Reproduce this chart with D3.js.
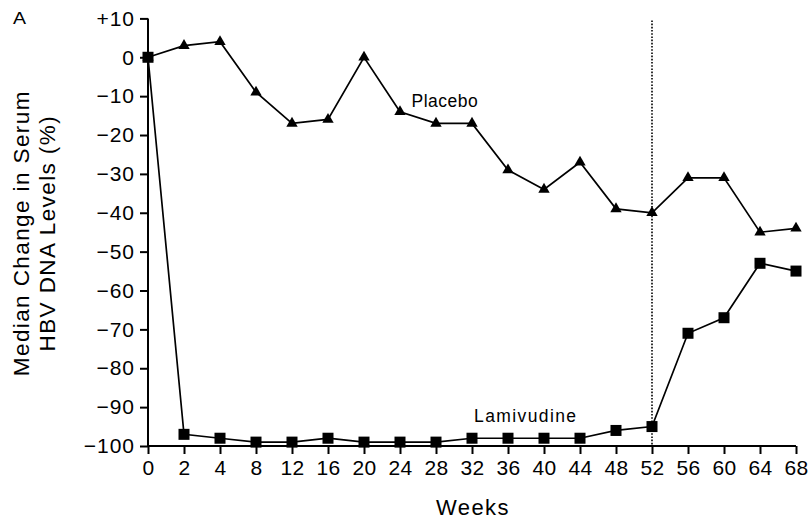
<!DOCTYPE html>
<html>
<head>
<meta charset="utf-8">
<script src="https://cdn.jsdelivr.net/npm/d3@7"></script>
<style>
  body { margin: 0; background: #fff; }
  text { font-family: "Liberation Sans", Arial, sans-serif; fill: #000; }
</style>
</head>
<body>
<svg id="chart"></svg>
<script>
const width = 809;
const height = 520;
const svg = d3.select('#chart').attr('width', width).attr('height', height);

// data
const weeks = ['0','2','4','8','12','16','20','24','28','32','36','40','44','48','52','56','60','64','68'];
const placebo = [0, 3, 4, -9, -17, -16, 0, -14, -17, -17, -29, -34, -27, -39, -40, -31, -31, -45, -44];
const lamivudine = [0, -97, -98, -99, -99, -98, -99, -99, -99, -98, -98, -98, -98, -96, -95, -71, -67, -53, -55];
const yTicks = [10, 0, -10, -20, -30, -40, -50, -60, -70, -80, -90, -100];
const stopWeek = '52';

const margin = { top: 18.4, left: 148 };
const innerW = 648;
const innerH = 427.6;

const g = svg.append('g').attr('transform', `translate(${margin.left},${margin.top})`);

const x = d3.scalePoint().domain(weeks).range([0, innerW]);
const y = d3.scaleLinear().domain([-100, 10]).range([innerH, 0]);

const fmt = d => d > 0 ? '+' + d : (d < 0 ? '\u2212' + Math.abs(d) : '0');

// axes
const yAxis = g.append('g')
  .call(d3.axisLeft(y).tickValues(yTicks).tickFormat(fmt).tickSize(8).tickSizeOuter(0).tickPadding(5));
const xAxis = g.append('g')
  .attr('transform', `translate(0,${innerH})`)
  .call(d3.axisBottom(x).tickSize(8).tickSizeOuter(0).tickPadding(6));

[yAxis, xAxis].forEach(a => {
  a.selectAll('path, line').attr('stroke', '#000').attr('stroke-width', 2);
  a.selectAll('text').style('font-size', '21px').attr('fill', '#000');
});
yAxis.selectAll('text').style('letter-spacing', '1px');
xAxis.selectAll('text').style('letter-spacing', '0.3px');
yAxis.select('.domain').attr('d', `M0,${y(10)}V${innerH}`);
xAxis.select('.domain').attr('d', `M0,0H${innerW}`);

// dotted line at end of treatment
g.append('line')
  .attr('x1', x(stopWeek)).attr('x2', x(stopWeek))
  .attr('y1', 2).attr('y2', innerH)
  .attr('stroke', '#000')
  .attr('stroke-width', 1.6)
  .attr('stroke-dasharray', '1.6,1.6');

const line = d3.line()
  .x((d, i) => x(weeks[i]))
  .y(d => y(d));

// placebo
g.append('path')
  .datum(placebo)
  .attr('d', line)
  .attr('fill', 'none')
  .attr('stroke', '#000')
  .attr('stroke-width', 1.7);

g.selectAll('.tri')
  .data(placebo)
  .enter()
  .append('path')
  .attr('class', 'tri')
  .attr('d', d3.symbol().type(d3.symbolTriangle).size(56))
  .attr('transform', (d, i) => `translate(${x(weeks[i])},${y(d)})`)
  .attr('fill', '#000');

// lamivudine
g.append('path')
  .datum(lamivudine)
  .attr('d', line)
  .attr('fill', 'none')
  .attr('stroke', '#000')
  .attr('stroke-width', 1.7);

g.selectAll('.sq')
  .data(lamivudine)
  .enter()
  .append('rect')
  .attr('class', 'sq')
  .attr('x', (d, i) => x(weeks[i]) - 5.5)
  .attr('y', d => y(d) - 5.5)
  .attr('width', 11)
  .attr('height', 11)
  .attr('fill', '#000');

// series labels
svg.append('text')
  .attr('x', 411.5).attr('y', 106.5)
  .style('font-size', '17.5px')
  .style('letter-spacing', '0.5px')
  .text('Placebo');

svg.append('text')
  .attr('x', 474).attr('y', 421.5)
  .style('font-size', '17.5px')
  .style('letter-spacing', '1.4px')
  .text('Lamivudine');

// axis titles
svg.append('text')
  .attr('x', margin.left + innerW / 2 + 1).attr('y', 515)
  .attr('text-anchor', 'middle')
  .style('font-size', '22px')
  .style('letter-spacing', '1.4px')
  .text('Weeks');

const yt = svg.append('text')
  .attr('transform', `translate(29,${margin.top + innerH / 2 + 1}) rotate(-90)`)
  .attr('text-anchor', 'middle')
  .style('font-size', '22.5px')
  .style('letter-spacing', '1.4px');
yt.append('tspan').attr('x', 0).attr('dy', 0).text('Median Change in Serum');
yt.append('tspan').attr('x', 0).attr('dy', 26).text('HBV DNA Levels (%)');

svg.append('text')
  .attr('transform', 'translate(13,23.5) scale(1.15,1)')
  .style('font-size', '17px')
  .text('A');
</script>
</body>
</html>
